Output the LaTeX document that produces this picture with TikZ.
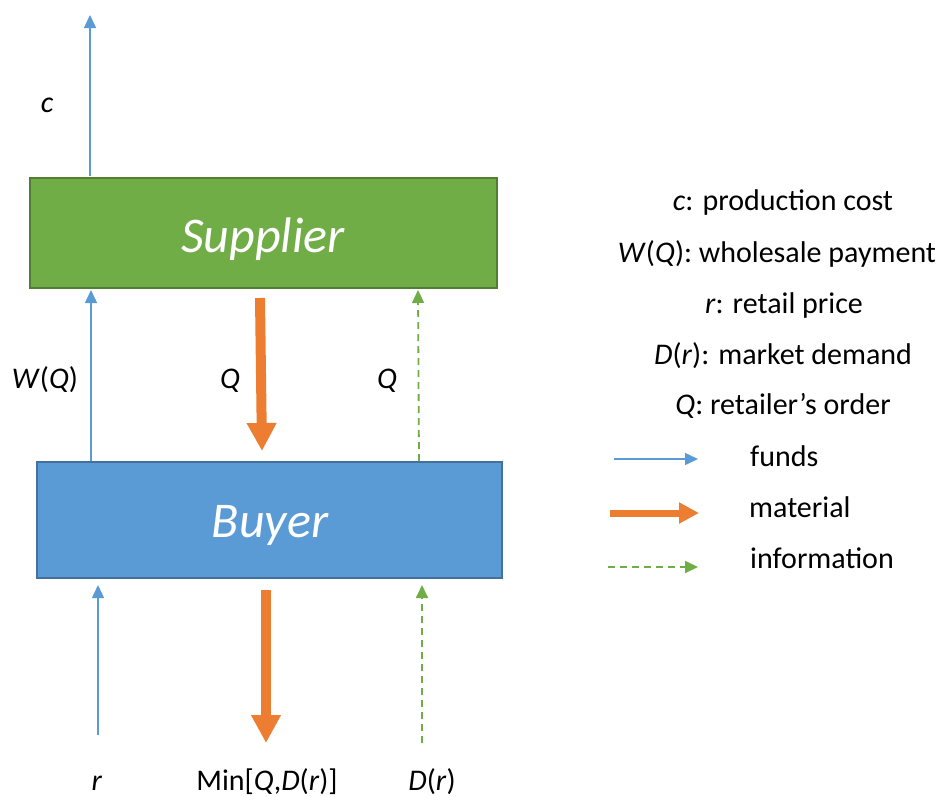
\documentclass[tikz,border=0pt]{standalone}
\usepackage{fontspec}
\setmainfont{Carlito}
\usetikzlibrary{arrows.meta}
\definecolor{sgreen}{HTML}{70AD47}
\definecolor{sgreenD}{HTML}{507E32}
\definecolor{bblue}{HTML}{5B9BD5}
\definecolor{bblueD}{HTML}{41719C}
\definecolor{morange}{HTML}{ED7D31}
\tikzset{
  box/.style={draw, line width=2pt, minimum width=#1, inner sep=0pt},
  boxtxt/.style={anchor=base, inner sep=0pt, font=\fontsize{50}{56}\selectfont\itshape, text=white},
  lbl/.style={anchor=base, font=\fontsize{30}{34}\selectfont, text=black, inner sep=0pt},
  funds/.style={draw=bblue, line width=1.5pt, -{Triangle[width=12pt,length=13pt]}},
  material/.style={draw=morange, line width=10pt, -{Triangle[width=28pt,length=28pt]}},
  info/.style={draw=sgreen, line width=1.8pt, dash pattern=on 7pt off 5pt, -{Triangle[width=12pt,length=13pt]}},
}
\begin{document}
\begin{tikzpicture}[x=1pt,y=-1pt]
\useasboundingbox (0,0) rectangle (945,796);
% boxes
\node[box=467pt, minimum height=110pt, fill=sgreen, draw=sgreenD] (sup) at (263.5,233) {};
\node[boxtxt] (supt) at (263,252) {Supplier};
\node[box=465pt, minimum height=116pt, fill=bblue, draw=bblueD] (buy) at (269.5,520) {};
\node[boxtxt] (buyt) at (270,537) {Buyer};
% coordinates
\coordinate (ctop) at (90,15);
\coordinate (cbot) at (90,176);
\coordinate (wbot) at (91,461);
\coordinate (wtop) at (91,290);
\coordinate (q1s) at (260,298);
\coordinate (q1e) at (262,451);
\coordinate (q2s) at (419,461);
\coordinate (q2e) at (418,290);
\coordinate (rs) at (98,735);
\coordinate (re) at (98,585);
\coordinate (ms) at (266,590);
\coordinate (me) at (266,743);
\coordinate (ds) at (422,743);
\coordinate (de) at (422,585);
% arrows
\draw[funds] (cbot) -- (ctop);
\draw[funds] (wbot) -- (wtop);
\draw[material] (q1s) -- (q1e);
\draw[info] (q2s) -- (q2e);
\draw[funds] (rs) -- (re);
\draw[material] (ms) -- (me);
\draw[info] (ds) -- (de);
% labels
\node[lbl] (lc) at (47,112) {\textit{c}};
\node[lbl] (lw) at (45,388) {\textit{W}(\textit{Q})};
\node[lbl] (lq1) at (230,388) {\textit{Q}};
\node[lbl] (lq2) at (387,388) {\textit{Q}};
\node[lbl] (lr) at (97,790) {\textit{r}};
\node[lbl] (lm) at (267,790) {Min[\textit{Q},\textit{D}(\textit{r})]};
\node[lbl] (ld) at (432,790) {\textit{D}(\textit{r})};
% legend text
\node[lbl] (k1) at (783,210) {\textit{c}: production cost};
\node[lbl] (k2) at (777,262) {\textit{W}(\textit{Q}): wholesale payment};
\node[lbl] (k3) at (784,313) {\textit{r}: retail price};
\node[lbl] (k4) at (783,364) {\textit{D}(\textit{r}): market demand};
\node[lbl] (k5) at (783,414) {\textit{Q}: retailer’s order};
% legend arrows
\coordinate (f1) at (614,459);
\coordinate (f2) at (698,459);
\coordinate (m1) at (610,513);
\coordinate (m2) at (699,513);
\coordinate (i1) at (608,567);
\coordinate (i2) at (698,567);
\draw[funds] (f1) -- (f2);
\draw[material, line width=7pt, -{Triangle[width=20pt,length=20pt]}] (m1) -- (m2);
\draw[info] (i1) -- (i2);
\node[lbl, anchor=base west] (tf) at (750,466) {funds};
\node[lbl, anchor=base west] (tm) at (749,517) {material};
\node[lbl, anchor=base west] (ti) at (750,568) {information};
\end{tikzpicture}
\end{document}
